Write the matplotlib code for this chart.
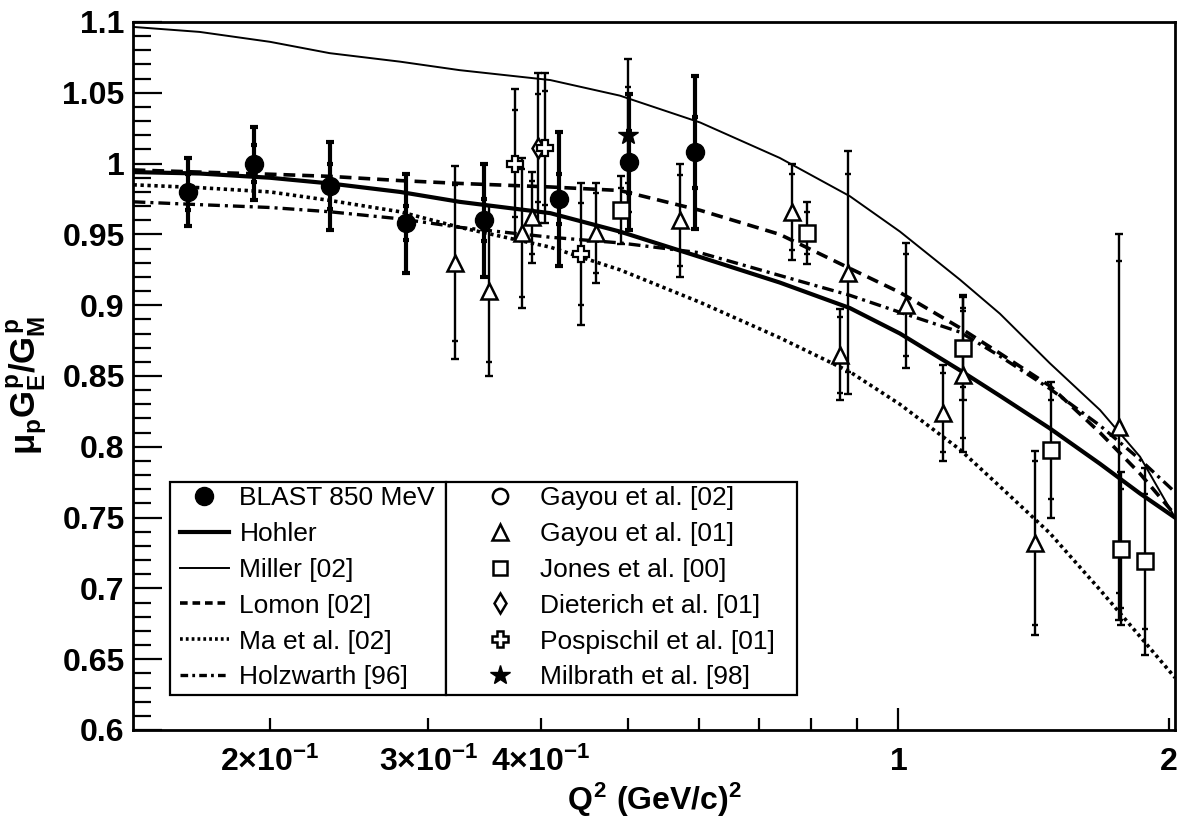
import matplotlib
matplotlib.use("Agg")
import matplotlib.pyplot as plt
from matplotlib.lines import Line2D
from matplotlib.patches import Rectangle
from matplotlib.ticker import FixedLocator, FuncFormatter, MultipleLocator

plt.rcParams['font.family'] = ['Liberation Sans', 'DejaVu Sans']
plt.rcParams['mathtext.fontset'] = 'custom'
plt.rcParams['mathtext.rm'] = 'Liberation Sans:bold'
plt.rcParams['mathtext.it'] = 'Liberation Sans:bold'
plt.rcParams['mathtext.bf'] = 'Liberation Sans:bold'
plt.rcParams['mathtext.sf'] = 'Liberation Sans:bold'
plt.rcParams['lines.scale_dashes'] = False

# ---- BLAST 850 MeV ----
blast_q2 = [0.162, 0.192, 0.233, 0.283, 0.346, 0.419, 0.501, 0.594]
blast_r = [0.980, 1.000, 0.984, 0.958, 0.960, 0.975, 1.001, 1.008]
blast_tot = [0.024, 0.026, 0.031, 0.035, 0.040, 0.047, 0.048, 0.054]
blast_stat = [0.013, 0.013, 0.016, 0.012, 0.015, 0.018, 0.022, 0.025]

# ---- world data ----
gayou01_q2 = [0.321, 0.350, 0.381, 0.391, 0.461, 0.571, 0.762, 0.861, 0.879,
              1.02, 1.121, 1.18, 1.42, 1.76]
gayou01_r = [0.930, 0.910, 0.951, 0.962, 0.951, 0.960, 0.966, 0.865, 0.923,
             0.900, 0.824, 0.851, 0.732, 0.814]
gayou01_tot = [0.068, 0.060, 0.053, 0.032, 0.035, 0.040, 0.034, 0.032, 0.086,
               0.044, 0.034, 0.055, 0.065, 0.136]
gayou01_stat = [0.055, 0.050, 0.045, 0.026, 0.028, 0.032, 0.027, 0.027, 0.070,
                0.036, 0.028, 0.045, 0.058, 0.117]

jones_q2 = [0.491, 0.791, 1.18, 1.48, 1.77, 1.88]
jones_r = [0.967, 0.951, 0.870, 0.798, 0.728, 0.719]
jones_tot = [0.024, 0.022, 0.037, 0.048, 0.054, 0.066]
jones_stat = [0.016, 0.015, 0.028, 0.035, 0.042, 0.048]

dieterich_q2 = [0.397]
dieterich_r = [1.011]
dieterich_tot = [0.053]
dieterich_stat = [0.038]

pospischil_q2 = [0.375, 0.405, 0.443]
pospischil_r = [1.000, 1.011, 0.936]
pospischil_tot = [0.053, 0.053, 0.050]
pospischil_stat = [0.038, 0.040, 0.036]

milbrath_q2 = [0.500]
milbrath_r = [1.020]
milbrath_tot = [0.054]
milbrath_stat = [0.034]

# ---- model curves, sampled on a common Q^2 grid ----
curve_q2 = [0.141, 0.167, 0.200, 0.233, 0.279, 0.325, 0.410, 0.490, 0.602,
            0.738, 0.883, 1.004, 1.171, 1.297, 1.474, 1.676, 1.857, 2.031]
hohler = [0.994, 0.993, 0.990, 0.986, 0.980, 0.973, 0.965, 0.952, 0.934,
          0.916, 0.898, 0.880, 0.854, 0.836, 0.813, 0.788, 0.767, 0.750]
miller = [1.0965, 1.093, 1.086, 1.078, 1.072, 1.066, 1.059, 1.048, 1.029,
          1.004, 0.977, 0.952, 0.918, 0.894, 0.859, 0.826, 0.793, 0.750]
lomon = [0.9955, 0.994, 0.9925, 0.991, 0.988, 0.986, 0.9835, 0.981, 0.967,
         0.950, 0.926, 0.909, 0.884, 0.866, 0.843, 0.810, 0.781, 0.752]
ma = [0.985, 0.983, 0.980, 0.974, 0.966, 0.955, 0.941, 0.925, 0.902,
      0.877, 0.853, 0.830, 0.798, 0.772, 0.739, 0.699, 0.666, 0.637]
holzwarth = [0.973, 0.971, 0.969, 0.966, 0.961, 0.955, 0.948, 0.944, 0.937,
             0.921, 0.907, 0.895, 0.881, 0.864, 0.841, 0.815, 0.791, 0.768]

W, H = 1177, 823
fig = plt.figure(figsize=(W / 100, H / 100), dpi=100)
ax_l, ax_r, ax_t, ax_b = 133, 1175, 22, 730
ax = fig.add_axes([ax_l / W, 1 - ax_b / H, (ax_r - ax_l) / W, (ax_b - ax_t) / H])
ax.set_xscale('log')
ax.set_xlim(0.1408, 2.031)
ax.set_ylim(0.6, 1.1)

# model curves
ax.plot(curve_q2, miller, color='k', lw=1.4, zorder=2)
ax.plot(curve_q2, hohler, color='k', lw=3.0, zorder=2)
ax.plot(curve_q2, lomon, color='k', lw=2.6, dashes=(8.5, 5.0), zorder=2)
ax.plot(curve_q2, ma, color='k', lw=2.6, dashes=(2.4, 2.6), zorder=2)
ax.plot(curve_q2, holzwarth, color='k', lw=2.4, dashes=(8.5, 3.6, 2.2, 3.6), zorder=2)


def draw_points(q2, r, tot, stat, marker, ms, face, elw, mew, cap=3.0):
    ax.errorbar(q2, r, yerr=tot, fmt='none', ecolor='k', elinewidth=elw,
                capsize=cap, capthick=elw, zorder=3)
    ax.errorbar(q2, r, yerr=stat, fmt='none', ecolor='k', elinewidth=0,
                capsize=cap * 0.7, capthick=elw, zorder=3)
    ax.plot(q2, r, ls='none', marker=marker, ms=ms, mfc=face, mec='k',
            mew=mew, zorder=4)


draw_points(gayou01_q2, gayou01_r, gayou01_tot, gayou01_stat, '^', 12, 'white', 1.7, 1.8)
draw_points(jones_q2, jones_r, jones_tot, jones_stat, 's', 11, 'white', 1.7, 1.8)
draw_points(dieterich_q2, dieterich_r, dieterich_tot, dieterich_stat, 'd', 10, 'white', 1.7, 1.8)
draw_points(pospischil_q2, pospischil_r, pospischil_tot, pospischil_stat, 'P', 12, 'white', 1.7, 1.6)
draw_points(milbrath_q2, milbrath_r, milbrath_tot, milbrath_stat, '*', 15, 'k', 1.7, 1.0)
draw_points(blast_q2, blast_r, blast_tot, blast_stat, 'o', 13, 'k', 3.0, 1.0)

# axes styling
for s in ax.spines.values():
    s.set_linewidth(2.0)
ax.yaxis.set_major_locator(MultipleLocator(0.05))
ax.yaxis.set_minor_locator(MultipleLocator(0.01))
ax.yaxis.set_major_formatter(FuncFormatter(lambda v, p: f'{v:g}'))
ax.xaxis.set_major_locator(FixedLocator([1.0]))
ax.xaxis.set_minor_locator(FixedLocator([0.2, 0.3, 0.4, 0.5, 0.6, 0.7, 0.8, 0.9, 2.0]))
ax.xaxis.set_major_formatter(FuncFormatter(lambda v, p: '1'))
minor_labels = {0.2: r'$2{\times}10^{-1}$', 0.3: r'$3{\times}10^{-1}$',
                0.4: r'$4{\times}10^{-1}$', 2.0: '2'}


def minor_fmt(v, p):
    for k, lab in minor_labels.items():
        if abs(v - k) < 1e-6:
            return lab
    return ''


ax.xaxis.set_minor_formatter(FuncFormatter(minor_fmt))
ax.tick_params(axis='both', which='both', direction='in', width=1.6,
               top=False, right=False)
ax.tick_params(axis='y', which='major', length=21, pad=6, labelsize=23)
ax.tick_params(axis='y', which='minor', length=13)
ax.tick_params(axis='x', which='major', length=16, pad=12, labelsize=23)
ax.tick_params(axis='x', which='minor', length=9, pad=12, labelsize=23)
for lab in ax.get_xticklabels(which='both') + ax.get_yticklabels():
    lab.set_fontweight('bold')

fig.text(655 / W, 1 - 800 / H, r'$Q^{2}$ (GeV/c)$^{2}$', ha='center', va='center',
         fontsize=23, fontweight='bold')
fig.text(27 / W, 1 - 385 / H, r'$\mu_{p}G^{p}_{E}/G^{p}_{M}$', ha='center', va='center',
         rotation=90, fontsize=25)

# legend frames
for x0, x1 in [(170, 446), (446, 797)]:
    fig.patches.append(Rectangle((x0 / W, 1 - 695 / H), (x1 - x0) / W, (695 - 482) / H,
                                 transform=fig.transFigure, facecolor='white',
                                 edgecolor='k', lw=1.6, zorder=5))

h1 = [Line2D([], [], ls='none', marker='o', ms=13, mfc='k', mec='k'),
      Line2D([], [], color='k', lw=3.0),
      Line2D([], [], color='k', lw=1.4),
      Line2D([], [], color='k', lw=2.6, dashes=(5.5, 3.5)),
      Line2D([], [], color='k', lw=2.6, dashes=(2.0, 2.2)),
      Line2D([], [], color='k', lw=2.4, dashes=(5.5, 3.0, 2.0, 3.0))]
l1 = ['BLAST 850 MeV', 'Hohler', 'Miller [02]', 'Lomon [02]', 'Ma et al. [02]',
      'Holzwarth [96]']
h2 = [Line2D([], [], ls='none', marker='o', ms=11, mfc='white', mec='k', mew=1.8),
      Line2D([], [], ls='none', marker='^', ms=12, mfc='white', mec='k', mew=1.8),
      Line2D([], [], ls='none', marker='s', ms=10.5, mfc='white', mec='k', mew=1.8),
      Line2D([], [], ls='none', marker='d', ms=10, mfc='white', mec='k', mew=1.8),
      Line2D([], [], ls='none', marker='P', ms=11.5, mfc='white', mec='k', mew=1.8),
      Line2D([], [], ls='none', marker='*', ms=15, mfc='k', mec='k')]
l2 = ['Gayou et al. [02]', 'Gayou et al. [01]', 'Jones et al. [00]',
      'Dieterich et al. [01]', 'Pospischil et al. [01]', 'Milbrath et al. [98]']

leg1 = fig.legend(h1, l1, loc='upper left', bbox_to_anchor=(180 / W, 1 - 486 / H),
                  frameon=False, fontsize=19, borderpad=0, borderaxespad=0,
                  handlelength=1.85, handletextpad=0.4, labelspacing=0.45)
leg2 = fig.legend(h2, l2, loc='upper left', bbox_to_anchor=(466 / W, 1 - 486 / H),
                  frameon=False, fontsize=19, borderpad=0, borderaxespad=0,
                  handlelength=2.6, handletextpad=0.2, labelspacing=0.45)
leg1.set_zorder(6)
leg2.set_zorder(6)

fig.savefig('out.png', dpi=100)
